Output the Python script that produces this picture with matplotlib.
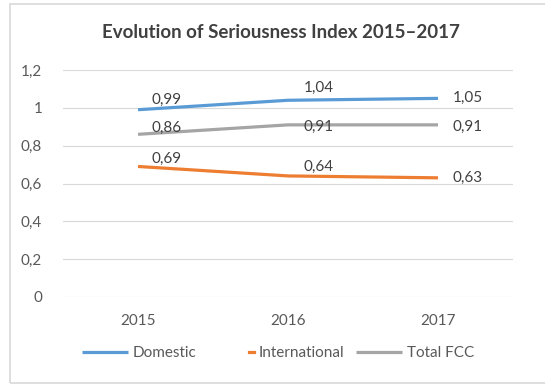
import matplotlib.pyplot as plt
from matplotlib.lines import Line2D
from matplotlib.legend_handler import HandlerBase
from matplotlib.patches import Rectangle

plt.rcParams['font.family'] = ['Lato', 'DejaVu Sans']

years = ['2015', '2016', '2017']
domestic = [0.99, 1.04, 1.05]
international = [0.69, 0.64, 0.63]
total_fcc = [0.86, 0.91, 0.91]
y_ticks = [0, 0.2, 0.4, 0.6, 0.8, 1.0, 1.2]
y_labels = ['0', '0,2', '0,4', '0,6', '0,8', '1', '1,2']

series = [
    ('Domestic', domestic, '#5B9BD5', [(29, 10), (31, 12), (30, 0)]),
    ('International', international, '#ED7D31', [(29, 8), (31, 9), (30, 0)]),
    ('Total FCC', total_fcc, '#A5A5A5', [(29, 6), (31, -2), (30, -2)]),
]


class DashKey(Line2D):
    pass


class ShortDash(HandlerBase):
    # tiny dash at the right end of the handle box
    def create_artists(self, legend, orig, xd, yd, width, height, fontsize, trans):
        ln = Line2D([width - 4, width], [height / 2 - yd, height / 2 - yd],
                    color=orig.get_color(), lw=2.3, transform=trans)
        return [ln]


fig = plt.figure(figsize=(5.45, 3.85), dpi=100)
ax = fig.add_axes([63 / 545, 1 - 297 / 385, 450 / 545, 227 / 385])

x = range(len(years))
handles = []
for name, vals, col, offs in series:
    ln, = ax.plot(x, vals, color=col, lw=2.3, label=name, solid_capstyle='butt')
    handles.append(ln)
    for xi, v, (dx, dy) in zip(x, vals, offs):
        ax.annotate(f'{v:.2f}'.replace('.', ','), (xi, v), xytext=(dx, dy),
                    textcoords='offset pixels', ha='center', va='center',
                    fontsize=11, color='#404040')
handles[1] = DashKey([], [], color=series[1][2])

ax.set_xlim(-0.5, 2.5)
ax.set_ylim(0, 1.2)
ax.set_xticks(list(x))
ax.set_xticklabels(years)
ax.set_yticks(y_ticks)
ax.set_yticklabels(y_labels)
ax.tick_params(length=0, labelsize=11, labelcolor='#595959')
ax.tick_params(axis='y', pad=15)
ax.tick_params(axis='x', pad=12)
ax.grid(axis='y', color='#D9D9D9', lw=0.8)
ax.set_axisbelow(True)
for s in ax.spines.values():
    s.set_visible(False)

fig.text(281 / 545, 1 - 33 / 385, 'Evolution of Seriousness Index 2015\u20132017',
         ha='center', va='center', fontsize=13.5, fontweight='bold', color='#404040')

fig.legend(handles, [s[0] for s in series], loc='center',
           bbox_to_anchor=(278 / 545, 1 - 353 / 385), ncol=3, frameon=False,
           fontsize=11, labelcolor='#595959', handlelength=3.0, handletextpad=0.3,
           columnspacing=0.8, handler_map={DashKey: ShortDash()})

fig.patches.append(Rectangle((10 / 545, 2 / 385), 1.0, 379 / 385,
                             transform=fig.transFigure, fill=False,
                             edgecolor='#D9D9D9', lw=1.2))

fig.savefig('out.png', dpi=100)
